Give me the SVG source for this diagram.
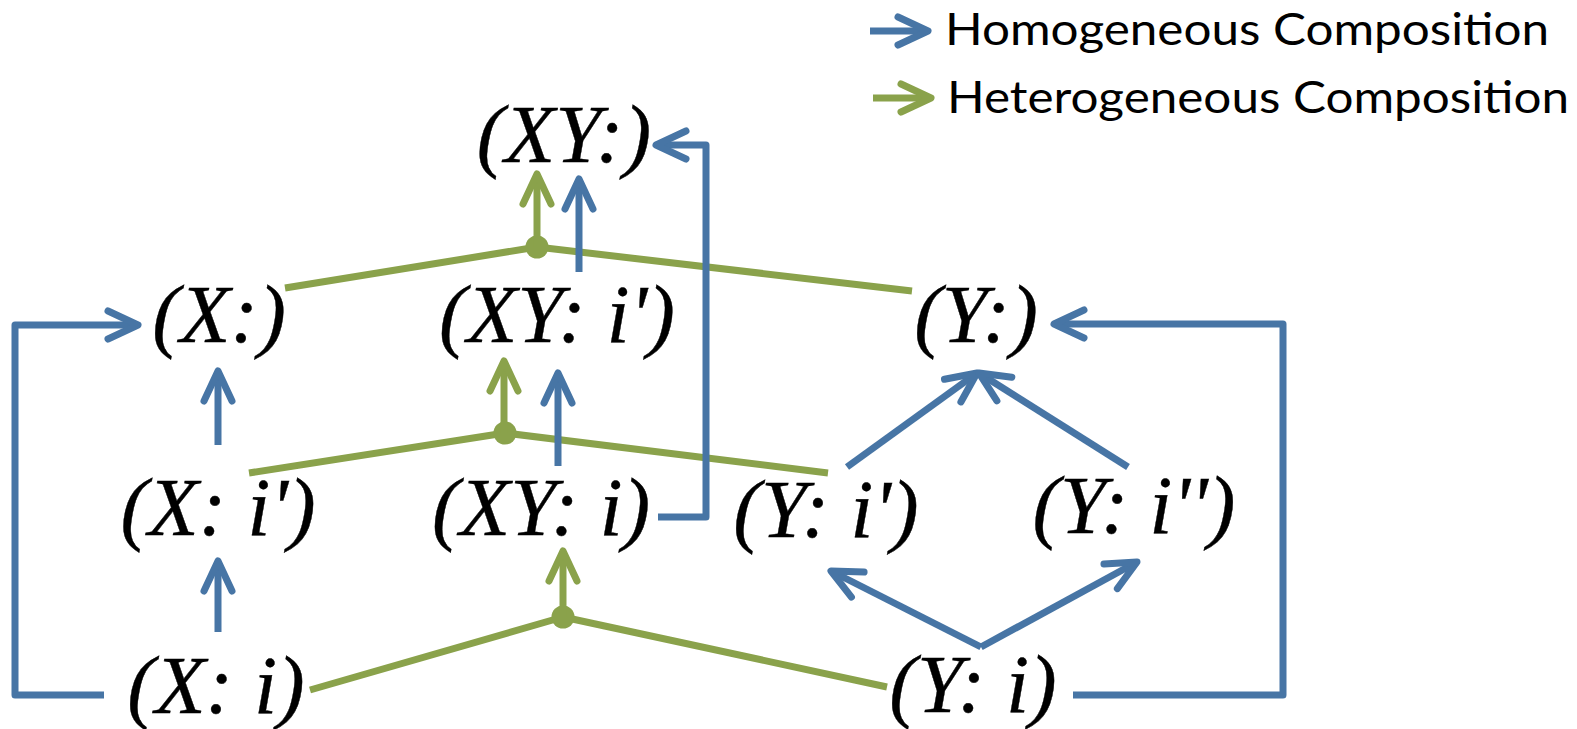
<svg xmlns="http://www.w3.org/2000/svg" width="1577" height="729" viewBox="0 0 1577 729">
<style>
.b{fill:none;stroke:#4775A5;stroke-width:7;stroke-linejoin:round}
.g{fill:none;stroke:#8AA24B;stroke-width:7;stroke-linejoin:round}
.ba{marker-end:url(#mb)}
.ga{marker-end:url(#mg)}
.dot{fill:#8AA24B}
.n{font-family:"Liberation Serif","Times New Roman",serif;font-style:italic;font-size:83px;fill:#000;stroke:#000;stroke-width:0.4;text-anchor:middle}
.lg{font-family:Lato,"Liberation Sans",sans-serif;font-weight:400;font-size:45px;fill:#000}
</style>
<defs>
<marker id="mb" markerUnits="userSpaceOnUse" markerWidth="40" markerHeight="40" viewBox="-40 -20 40 40" refX="0" refY="0" orient="auto" overflow="visible">
<path d="M-30,-14 L0,0 L-30,14" fill="none" stroke="#4775A5" stroke-width="7" stroke-linecap="round" stroke-linejoin="round"/>
</marker>
<marker id="mg" markerUnits="userSpaceOnUse" markerWidth="40" markerHeight="40" viewBox="-40 -20 40 40" refX="0" refY="0" orient="auto" overflow="visible">
<path d="M-30,-14 L0,0 L-30,14" fill="none" stroke="#8AA24B" stroke-width="7" stroke-linecap="round" stroke-linejoin="round"/>
</marker>
</defs>
<rect width="1577" height="729" fill="#fff"/>
<g id="legend">
<path class="b ba" d="M870,31 H928"/>
<text class="lg" x="945" y="45" textLength="604" lengthAdjust="spacingAndGlyphs">Homogeneous Composition</text>
<path class="g ga" d="M873,98 H931"/>
<text class="lg" x="947" y="113" textLength="622" lengthAdjust="spacingAndGlyphs">Heterogeneous Composition</text>
</g>
<g id="connectors">
<path class="g" d="M285,288 L537,247 L912,291"/>
<circle class="dot" cx="537" cy="247" r="11.5"/>
<path class="g ga" d="M537,247 V174"/>
<path class="g" d="M249,473 L505,433 L828,473"/>
<circle class="dot" cx="505" cy="433" r="11.5"/>
<path class="g ga" d="M504,433 V361"/>
<path class="g" d="M310,690 L563,617 L887,687"/>
<circle class="dot" cx="563" cy="617" r="11.5"/>
<path class="g ga" d="M563,617 V551"/>
<path class="b ba" d="M104,695 H15 V325 H138"/>
<path class="b ba" d="M218,445 V371"/>
<path class="b ba" d="M218,632 V561"/>
<path class="b ba" d="M579,272 V179"/>
<path class="b ba" d="M558,466 V373"/>
<path class="b ba" d="M658,517 H706 V145 H656"/>
<path class="b ba" d="M847,467 L977,373"/>
<path class="b ba" d="M1128,467 L979,373"/>
<path class="b ba" d="M981,647 L831,571"/>
<path class="b ba" d="M981,647 L1137,562"/>
<path class="b ba" d="M1073,695 H1283 V324 H1054"/>
</g>
<g id="n-XY"><text class="n" x="564" y="162">(XY:)</text></g>
<g id="n-X"><text class="n" x="219" y="342">(X:)</text></g>
<g id="n-XYi2"><text class="n" x="557" y="342">(XY: i')</text></g>
<g id="n-Y"><text class="n" x="976" y="342">(Y:)</text></g>
<g id="n-Xi2"><text class="n" x="218" y="535">(X: i')</text></g>
<g id="n-XYi"><text class="n" x="541" y="535">(XY: i)</text></g>
<g id="n-Yi2"><text class="n" x="826" y="537">(Y: i')</text></g>
<g id="n-Yi3"><text class="n" x="1134" y="533">(Y: i'')</text></g>
<g id="n-Xi"><text class="n" x="216" y="713">(X: i)</text></g>
<g id="n-Yi"><text class="n" x="973" y="712">(Y: i)</text></g>
</svg>
